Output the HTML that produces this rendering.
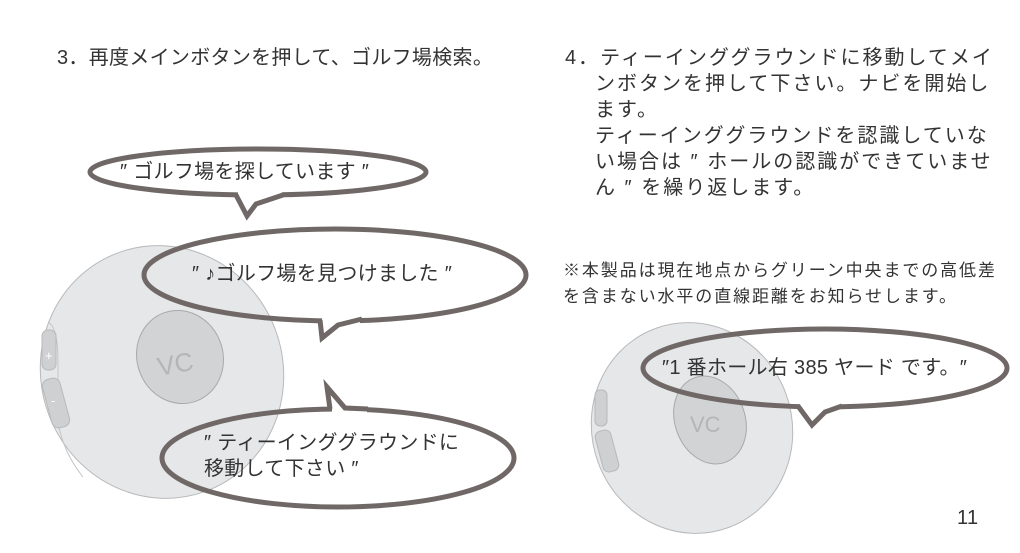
<!DOCTYPE html>
<html><head><meta charset="utf-8"><style>
html,body{margin:0;padding:0;background:#fff;}
body{width:1020px;height:553px;position:relative;overflow:hidden;font-family:"Liberation Sans","Noto Sans CJK JP",sans-serif;color:#333;}
.t{position:absolute;white-space:nowrap;font-size:20px;line-height:26px;letter-spacing:0.3px;}
.r{position:absolute;white-space:nowrap;font-size:20px;line-height:26px;letter-spacing:2px;}
.n{position:absolute;white-space:nowrap;font-size:17px;line-height:26px;letter-spacing:1.9px;}
svg{position:absolute;left:0;top:0;}
</style></head><body>
<svg width="1020" height="553" viewBox="0 0 1020 553">
 <g fill="#e6e7e8" stroke="#b8b9bb" stroke-width="1">
  <ellipse cx="162" cy="372" rx="121" ry="127" transform="rotate(-20 162 372)"/>
  <path d="M48 322 q10 5 10 40 l0 60 q5 30 25 55" fill="none" stroke="#c4c5c7"/>
  <rect x="42" y="330" width="14" height="40" rx="6" fill="#cfd0d2"/>
  <rect x="47" y="378" width="18" height="50" rx="7" fill="#cfd0d2" transform="rotate(-15 56 403)"/>
  <ellipse cx="180" cy="357" rx="43" ry="47" transform="rotate(-20 180 357)" fill="#d2d3d5" stroke="#a8a9ab"/>
 </g>
 <text x="157" y="372" font-family="Liberation Sans" font-size="26" fill="#b4b5b7" transform="rotate(-10 180 362)">VC</text>
 <text x="45" y="360" font-size="13" fill="#fff" font-family="Liberation Sans">+</text>
 <text x="51" y="405" font-size="13" fill="#fff" font-family="Liberation Sans">-</text>

 <g fill="#e6e7e8" stroke="#b8b9bb" stroke-width="1">
  <ellipse cx="692" cy="428" rx="100" ry="106" transform="rotate(-20 692 428)"/>
  <rect x="595" y="390" width="12" height="36" rx="5" fill="#cfd0d2"/>
  <rect x="599" y="430" width="16" height="42" rx="6" fill="#cfd0d2" transform="rotate(-15 607 451)"/>
  <ellipse cx="710" cy="420" rx="35" ry="45" transform="rotate(-20 710 420)" fill="#d2d3d5" stroke="#a8a9ab"/>
 </g>
 <text x="690" y="432" font-family="Liberation Sans" font-size="22" fill="#b4b5b7">VC</text>

 <g fill="none" stroke="#6f6866" stroke-width="5">
  <ellipse cx="258" cy="172" rx="168" ry="23"/>
  <ellipse cx="335" cy="275" rx="191" ry="46"/>
  <ellipse cx="338" cy="458" rx="176" ry="49"/>
  <ellipse cx="825" cy="368" rx="182" ry="39"/>
 </g>
 <g fill="#fff" stroke="none">
  <polygon points="238,190 282,190 282,199 238,199"/>
  <polygon points="322,314 360,314 360,324 322,324"/>
  <polygon points="332,404 367,404 367,414 332,414"/>
  <polygon points="800,400 840,400 840,410 800,410"/>
 </g>
 <g fill="none" stroke="#6f6866" stroke-width="5" stroke-linejoin="miter">
  <polyline points="236,195 247,216 256,204 283,195"/>
  <polyline points="320,320 322,338 338,325 362,319"/>
  <polyline points="330,409 327,387 345,408 368,409"/>
  <polyline points="798,406 812,425 825,412 842,406"/>
 </g>
</svg>
<div class="t" style="left:57px;top:45px">3．再度メインボタンを押して、ゴルフ場検索。</div>
<div class="r" style="left:565px;top:45px">4．ティーインググラウンドに移動してメイ</div>
<div class="r" style="left:595px;top:71px">ンボタンを押して下さい。ナビを開始し</div>
<div class="r" style="left:595px;top:97px">ます。</div>
<div class="r" style="left:595px;top:123px">ティーインググラウンドを認識していな</div>
<div class="r" style="left:595px;top:149px">い場合は ″ ホールの認識ができていませ</div>
<div class="r" style="left:595px;top:175px">ん ″ を繰り返します。</div>
<div class="n" style="left:563px;top:258px">※本製品は現在地点からグリーン中央までの高低差</div>
<div class="n" style="left:563px;top:284px">を含まない水平の直線距離をお知らせします。</div>
<div class="t" style="left:120px;top:159px">″ ゴルフ場を探しています ″</div>
<div class="t" style="left:192px;top:261px">″ ♪ゴルフ場を見つけました ″</div>
<div class="t" style="left:204px;top:430px">″ ティーインググラウンドに</div>
<div class="t" style="left:204px;top:456px">移動して下さい ″</div>
<div class="t" style="left:662px;top:355px">″1 番ホール右 385 ヤード です。″</div>
<div class="t" style="left:957px;top:505px">11</div>
</body></html>
